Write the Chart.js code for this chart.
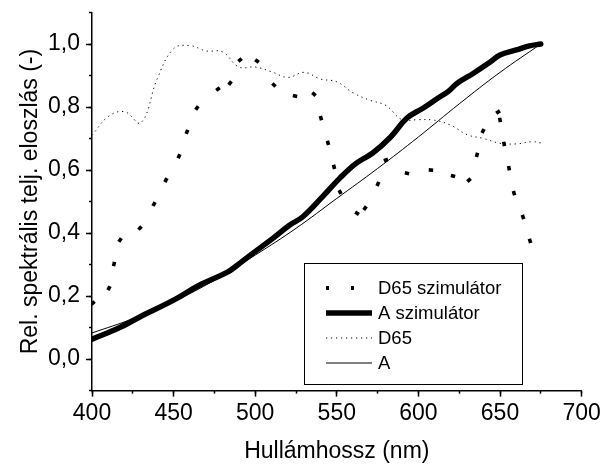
<!DOCTYPE html>
<html>
<head>
<meta charset="utf-8">
<script src="https://cdn.jsdelivr.net/npm/chart.js@4.4.0/dist/chart.umd.min.js"></script>
<style>
html,body{margin:0;padding:0;background:#fff;}
</style>
</head>
<body>
<canvas id="chartSpektrum" width="604" height="465"></canvas>
<script>

/* DATA */

let seriesNames=["D65 szimulátor","A szimulátor","D65","A"];

// D65 szimulátor (each value = one dash mark of the plot)
let d65SzimNm=[400.6,410.4,413.5,417.2,429.4,438.0,445.3,453.3,458.2,464.3,477.2,484.6,490.7,501.1,511.5,524.4,536.0,540.3,544.6,548.3,552.0,562.4,567.3,575.2,580.1,593.0,607.7,621.2,631.0,635.9,639.6,648.8,650.0,652.5,655.5,658.6,664.1,668.4];
let d65SzimVal=[0.178,0.225,0.302,0.378,0.416,0.492,0.568,0.644,0.721,0.797,0.857,0.876,0.949,0.946,0.870,0.835,0.841,0.765,0.686,0.610,0.530,0.463,0.479,0.556,0.632,0.590,0.600,0.581,0.568,0.648,0.724,0.784,0.759,0.683,0.606,0.527,0.451,0.375];

// A szimulátor
let aSzimNm=[400,417,429,450,466,483,489,497,511,521,529,541,552,562,572,583,593,603,613,618,624,634,644,650,660,668,675];
let aSzimVal=[0.063,0.100,0.133,0.187,0.235,0.276,0.298,0.330,0.384,0.425,0.451,0.514,0.575,0.622,0.654,0.705,0.765,0.797,0.832,0.848,0.876,0.908,0.943,0.965,0.981,0.994,1.000];

// D65
let d65Nm=[400,410,420,430,440,450,460,470,480,490,500,510,520,530,540,550,560,570,580,590,600,610,620,630,640,650,660,670,675];
let d65Val=[0.71,0.77,0.785,0.75,0.89,0.985,0.995,0.978,0.975,0.927,0.927,0.912,0.894,0.91,0.889,0.88,0.845,0.822,0.805,0.76,0.76,0.758,0.742,0.712,0.70,0.685,0.683,0.69,0.686];

// A
let aNm=[400,425,450,475,500,525,550,575,600,625,650,675];
let aVal=[0.083,0.128,0.183,0.25,0.33,0.415,0.51,0.605,0.705,0.81,0.91,1.0];

function pairs(xs,ys){
return xs.map((x,i)=>({x:x,y:ys[i]}));
}

/* dash marks follow the direction of the curve */

function markRotation(ctx){
if(ctx.dataIndex===undefined) return 0;
let chart=ctx.chart;
let xs=chart.scales.x, ys=chart.scales.y;
if(!xs||!ys) return 0;
let data=ctx.dataset.data;
let i=ctx.dataIndex;
let a=data[Math.max(0,i-1)];
let b=data[Math.min(data.length-1,i+1)];
let dx=xs.getPixelForValue(b.x)-xs.getPixelForValue(a.x);
let dy=ys.getPixelForValue(b.y)-ys.getPixelForValue(a.y);
return Math.atan2(dy,dx)*180/Math.PI;
}

/* LEGEND inside the plot */

const legendBox={
id:'legendBox',
afterDraw(chart){
const ctx=chart.ctx;
const a=chart.chartArea;
const left=Math.round(a.left+212), top=Math.round(a.top+250.5), w=218, h=121;
ctx.save();
ctx.fillStyle='#fff';
ctx.fillRect(left,top,w,h);
ctx.strokeStyle='#000';
ctx.lineWidth=1;
ctx.strokeRect(left+0.5,top+0.5,w,h);
ctx.font='18.5px "Liberation Sans", Arial, sans-serif';
ctx.textBaseline='middle';
chart.data.datasets.forEach((ds,i)=>{
let y=top+25+i*25;
let x0=left+22, x1=left+68;
ctx.fillStyle='#000';
if(ds.showLine===false){
ctx.fillRect(x0,y-2,3,4);
ctx.fillRect(x0+25,y-2,3,4);
}else{
ctx.strokeStyle=ds.borderColor;
ctx.lineWidth=ds.borderWidth;
ctx.setLineDash(ds.borderDash||[]);
ctx.beginPath();
ctx.moveTo(x0,y);
ctx.lineTo(x1,y);
ctx.stroke();
ctx.setLineDash([]);
}
ctx.fillStyle='#000';
ctx.fillText(ds.label,left+74,y+1);
});
ctx.restore();
}
};

/* GRAPH */

const fontFam='"Liberation Sans", Arial, Helvetica, sans-serif';
Chart.defaults.font.family=fontFam;
Chart.defaults.color='#000';

function isMajorY(v){ let k=Math.round(v*10); return k%2===0 && k>=0 && k<=10; }

function fitY(w){
return s=>{ s.width=w; s.paddingTop=0; s.paddingBottom=0; };
}
function fitX(h){
return s=>{ s.height=h; s.paddingLeft=0; s.paddingRight=0; };
}

new Chart(document.getElementById("chartSpektrum"),{

type:"line",

data:{
datasets:[
{
label:seriesNames[0],
data:pairs(d65SzimNm,d65SzimVal),
showLine:false,
pointStyle:'line',
pointRadius:2.2,
pointBorderWidth:3.6,
pointBorderColor:'#000',
pointRotation:markRotation,
borderColor:'#000'
},
{
label:seriesNames[1],
data:pairs(aSzimNm,aSzimVal),
borderColor:'#000',
borderWidth:5.5,
pointRadius:0,
tension:0.4,
borderCapStyle:'round',
borderJoinStyle:'round'
},
{
label:seriesNames[2],
data:pairs(d65Nm,d65Val),
borderColor:'#000',
borderWidth:1,
borderDash:[1.2,3.8],
pointRadius:0,
tension:0.4
},
{
label:seriesNames[3],
data:pairs(aNm,aVal),
borderColor:'#000',
borderWidth:1,
pointRadius:0,
tension:0.4
}
]
},

plugins:[legendBox],

options:{
responsive:false,
animation:false,
events:[],
layout:{padding:{top:12.5,right:22.4,left:0,bottom:0}},

plugins:{
legend:{display:false},
tooltip:{enabled:false}
},

scales:{
x:{
type:'linear',
position:'bottom',
weight:1,
min:400,
max:700,
afterFit:fitX(74.4),
ticks:{
stepSize:50,
padding:3,
font:{size:23},
color:'#000',
maxRotation:0,
autoSkip:false
},
grid:{
drawOnChartArea:false,
tickLength:6,
tickWidth:1.5,
tickColor:'#000'
},
border:{color:'#000',width:1.5},
title:{
display:true,
text:'Hullámhossz (nm)',
font:{size:23},
color:'#000',
padding:{top:0,bottom:0}
}
},
xMinor:{
type:'linear',
position:'bottom',
weight:0,
min:400,
max:700,
afterFit:fitX(0),
ticks:{stepSize:25,display:false},
grid:{drawOnChartArea:false,tickLength:3,tickWidth:1.5,tickColor:'#000'},
border:{display:false}
},
y:{
type:'linear',
position:'left',
weight:1,
min:-0.1,
max:1.1,
afterFit:fitY(92),
ticks:{
stepSize:0.1,
padding:6,
font:{size:23},
color:'#000',
autoSkip:false,
callback:v=>isMajorY(v)?v.toFixed(1).replace('.',','):null
},
grid:{
drawOnChartArea:false,
tickLength:6,
tickWidth:1.5,
tickColor:'#000'
},
border:{color:'#000',width:1.5},
title:{
display:true,
text:'Rel. spektrális telj. eloszlás (-)',
font:{size:23},
color:'#000',
padding:{top:17,bottom:0}
}
},
yMinor:{
type:'linear',
position:'left',
weight:0,
min:-0.1,
max:1.1,
afterFit:fitY(0),
ticks:{stepSize:0.1,display:false},
grid:{drawOnChartArea:false,tickLength:3,tickWidth:1.5,tickColor:'#000'},
border:{display:false}
}
}

}

});

</script>
</body>
</html>
